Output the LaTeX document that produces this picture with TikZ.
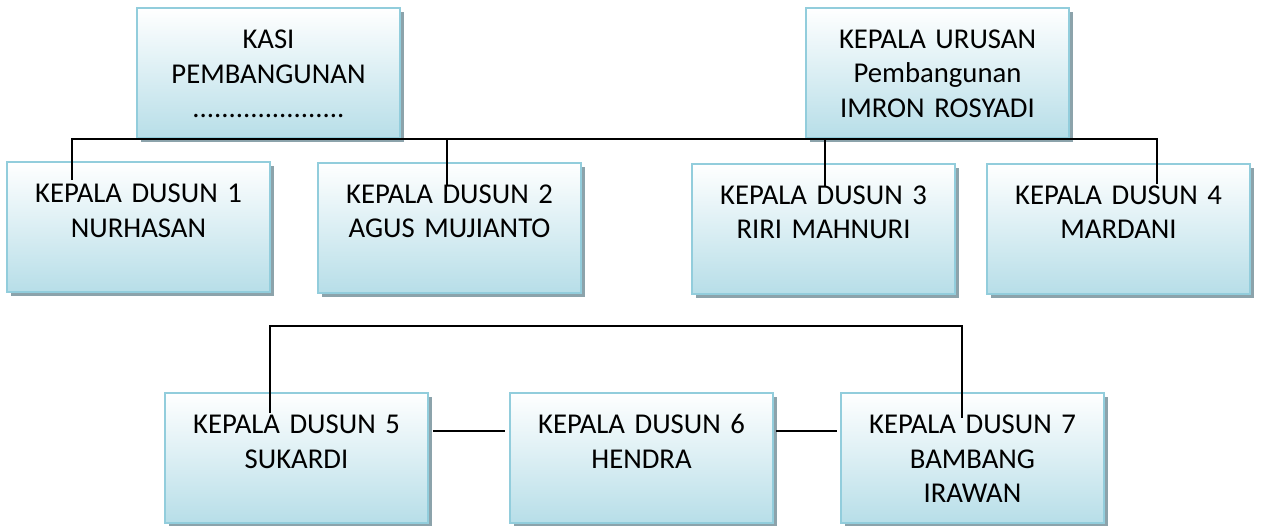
\documentclass[tikz,border=0pt]{standalone}
\usepackage{fontspec}
\setmainfont{Carlito}
\usetikzlibrary{shadows}

\definecolor{boxline}{RGB}{146,205,220}
\definecolor{boxfill}{RGB}{183,222,232}
\definecolor{shadowc}{RGB}{140,163,171}

\begin{document}
\begin{tikzpicture}[
	x=1pt, y=-1pt,
	box/.style={draw=boxline, line width=2pt, top color=white, bottom color=boxfill,
		text width=263pt, align=center, inner sep=0pt,
		text height=40.5pt, text depth=89.5pt,
		font=\fontsize{28.7}{34.5}\selectfont,
		drop shadow={shadow xshift=4pt, shadow yshift=-4pt, fill=shadowc, opacity=1}},
	link/.style={draw=black, line width=2pt}
]
\useasboundingbox (0,0) rectangle (1261,525);

% Top row
\node[box] (kasi) at (268.5,73) {KASI\\PEMBANGUNAN\\.....................};
\node[box] (urusan) at (937.5,72.5) {KEPALA URUSAN\\Pembangunan\\IMRON ROSYADI};

% Dusun 1-4
\node[box] (d1) at (138.5,227) {KEPALA DUSUN 1\\NURHASAN};
\node[box] (d2) at (449.5,227.5) {KEPALA DUSUN 2\\AGUS MUJIANTO};
\node[box] (d3) at (823.5,228.5) {KEPALA DUSUN 3\\RIRI MAHNURI};
\node[box] (d4) at (1118.5,228.5) {KEPALA DUSUN 4\\MARDANI};

% Dusun 5-7
\node[box] (d5) at (296.5,458) {KEPALA DUSUN 5\\SUKARDI};
\node[box] (d6) at (641.5,458) {KEPALA DUSUN 6\\HENDRA};
\node[box] (d7) at (972.5,458) {KEPALA DUSUN 7\\BAMBANG\\IRAWAN};

% Line ends (inside the boxes)
\coordinate (t1) at (72,180);
\coordinate (t2) at (447,185);
\coordinate (t3) at (825,186);
\coordinate (t4) at (1157,184);
\coordinate (b5) at (270,413);
\coordinate (b7) at (962,418);
\coordinate (bus) at (616,326);

% Upper bus
\draw[link] (t1) |- (kasi.south) -| (t4);
\draw[link] (t2) -- (t2 |- kasi.south);
\draw[link] (t3) -- (t3 |- kasi.south);

% Lower bus
\draw[link] (b5) |- (bus) -| (b7);
\draw[link] ([shift={(4pt,27pt)}]d5.east) -- ([shift={(-4pt,27pt)}]d6.west);
\draw[link] ([shift={(2pt,27pt)}]d6.east) -- ([shift={(-3pt,27pt)}]d7.west);
\end{tikzpicture}
\end{document}
